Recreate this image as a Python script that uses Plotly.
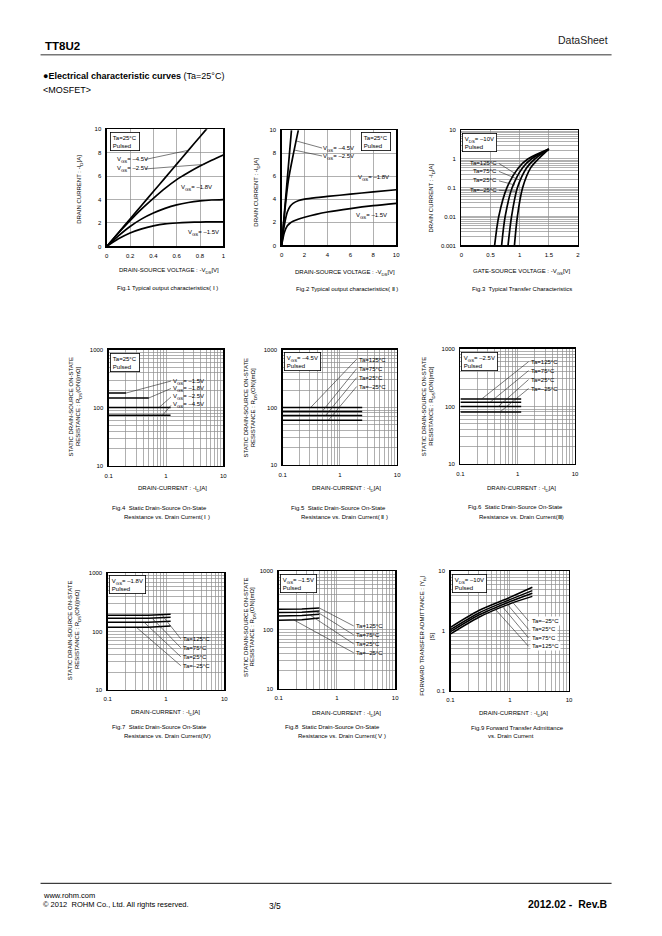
import numpy as np
import plotly.graph_objects as go

W, H = 662, 936
FONT = "Liberation Sans, Arial, Helvetica, sans-serif"

# ---------------- data ----------------
# Fig.1 Typical output characteristics (I)
f1_vds = [0, 0.1, 0.2, 0.3, 0.4, 0.5, 0.6, 0.7, 0.8, 0.9, 1.0]
f1_id_45 = [0, 1.17, 2.34, 3.51, 4.68, 5.85, 7.02, 8.19, 9.36, 10.53, 11.7]
f1_id_25 = [0, 1.15, 2.2, 3.2, 4.1, 4.95, 5.7, 6.3, 6.85, 7.35, 7.8]
f1_id_18 = [0, 0.9, 1.7, 2.35, 2.85, 3.25, 3.55, 3.75, 3.88, 3.96, 4.0]
f1_id_15 = [0, 0.65, 1.15, 1.5, 1.75, 1.92, 2.0, 2.05, 2.08, 2.09, 2.1]

# Fig.2 Typical output characteristics (II)
f2_vds_45 = [0, 0.4, 0.86]
f2_id_45 = [0, 4.65, 10.0]
f2_vds_25 = [0, 0.3, 0.6, 1.0, 1.46]
f2_id_25 = [0, 3.2, 5.7, 7.8, 10.0]
f2_vds = [0, 0.25, 0.5, 0.75, 1, 1.5, 2, 3, 4, 6, 8, 10]
f2_id_18 = [0, 1.8, 2.9, 3.4, 3.65, 3.9, 4.02, 4.15, 4.25, 4.45, 4.65, 4.83]
f2_id_15 = [0, 1.15, 1.7, 1.95, 2.1, 2.3, 2.45, 2.7, 2.9, 3.2, 3.45, 3.65]

# Fig.3 Typical transfer characteristics
f3_id = [0.001, 0.01, 0.1, 0.5, 1.0, 2.2]
f3_vgs_125 = [0.57, 0.64, 0.78, 0.98, 1.14, 1.5]
f3_vgs_75 = [0.69, 0.75, 0.87, 1.05, 1.2, 1.5]
f3_vgs_25 = [0.80, 0.86, 0.96, 1.12, 1.26, 1.5]
f3_vgs_m25 = [0.91, 0.96, 1.05, 1.19, 1.32, 1.5]

# Fig.4 RDS(on) vs ID, Ta=25C, various VGS
f4_id_15 = [0.1, 0.2]
f4_r_15 = [180, 180]
f4_id_18 = [0.1, 0.5]
f4_r_18 = [148, 148]
f4_id_25 = [0.1, 1.2]
f4_r_25 = [102, 102]
f4_id_45 = [0.1, 1.2]
f4_r_45 = [75, 75]

# Fig.5 RDS(on) vs ID, VGS=-4.5V
f5_id = [0.1, 2.45]
f5_r_125 = [100, 100]
f5_r_75 = [85, 85]
f5_r_25 = [72, 72]
f5_r_m25 = [60, 60]

# Fig.6 RDS(on) vs ID, VGS=-2.5V
f6_id = [0.1, 1.15]
f6_r_125 = [135, 135]
f6_r_75 = [118, 118]
f6_r_25 = [100, 100]
f6_r_m25 = [80, 80]

# Fig.7 RDS(on) vs ID, VGS=-1.8V
f7_id = [0.1, 0.5, 1.2]
f7_r_125 = [190, 190, 198]
f7_r_75 = [168, 168, 175]
f7_r_25 = [144, 144, 150]
f7_r_m25 = [118, 118, 124]

# Fig.8 RDS(on) vs ID, VGS=-1.5V
f8_id = [0.1, 0.25, 0.5]
f8_r_125 = [225, 228, 238]
f8_r_75 = [198, 200, 210]
f8_r_25 = [173, 176, 185]
f8_r_m25 = [147, 150, 160]

# Fig.9 Forward transfer admittance vs ID
f9_id = [0.1, 0.3, 1.0, 2.4]
f9_y_m25 = [1.15, 2.2, 3.65, 5.4]
f9_y_25 = [1.05, 2.0, 3.35, 4.75]
f9_y_75 = [0.97, 1.85, 3.1, 4.3]
f9_y_125 = [0.89, 1.7, 2.85, 3.8]

# tick labels
lin_ticks_f1x = [0, 0.2, 0.4, 0.6, 0.8, 1]
lin_ticks_f1y = [0, 2, 4, 6, 8, 10]
lin_ticks_f2 = [0, 2, 4, 6, 8, 10]
lin_ticks_f3x = [0, 0.5, 1, 1.5, 2]

# ---------------- layout helpers ----------------
PANELS = {
    1: dict(px=(104, 222), py=(127, 245), xt='linear', xr=(0, 1), yt='linear', yr=(0, 10)),
    2: dict(px=(281, 397), py=(128, 244), xt='linear', xr=(0, 10), yt='linear', yr=(0, 10)),
    3: dict(px=(463, 581), py=(128, 244), xt='linear', xr=(0, 2), yt='log', yr=(0.001, 10)),
    4: dict(px=(106, 222), py=(349, 466), xt='log', xr=(0.1, 10), yt='log', yr=(10, 1000)),
    5: dict(px=(282, 398), py=(349, 465), xt='log', xr=(0.1, 10), yt='log', yr=(10, 1000)),
    6: dict(px=(462, 578), py=(348, 464), xt='log', xr=(0.1, 10), yt='log', yr=(10, 1000)),
    7: dict(px=(105, 223), py=(574, 691), xt='log', xr=(0.1, 10), yt='log', yr=(10, 1000)),
    8: dict(px=(278, 396), py=(572, 690), xt='log', xr=(0.1, 10), yt='log', yr=(10, 1000)),
    9: dict(px=(452, 572), py=(572, 692), xt='log', xr=(0.1, 10), yt='log', yr=(0.1, 10)),
}

GRID = '#8e8e8e'


def fmt(v):
    return ('%g' % v)


def sub(t):
    # subscript without extra zero-width helper elements
    return '<span style="font-size:4.3px;baseline-shift:-1.5px">' + t + '</span>'


def log_ticks(lo, hi):
    e0, e1 = int(round(np.log10(lo))), int(round(np.log10(hi)))
    major, minor = [], []
    for e in range(e0, e1):
        major.append(round(10.0 ** e, 6))
        for m in range(2, 10):
            minor.append(round(m * 10.0 ** e, 6))
    major.append(round(10.0 ** e1, 6))
    return major, minor


def axis_dict(kind, rng, dom, anchor, lin_vals=None):
    d = dict(domain=dom, anchor=anchor, showline=True, mirror=True, linecolor='black',
             linewidth=1.3, ticks='', showgrid=True, gridcolor=GRID, gridwidth=0.7,
             zeroline=False, tickfont=dict(size=6, color='black', family=FONT),
             fixedrange=True, ticklabelstandoff=3)
    if kind == 'log':
        major, minor = log_ticks(*rng)
        d.update(type='log', range=[np.log10(rng[0]), np.log10(rng[1])],
                 tickmode='array', tickvals=major, ticktext=[fmt(v) for v in major],
                 minor=dict(tickmode='array', tickvals=minor, showgrid=True,
                            gridcolor=GRID, gridwidth=0.7, ticks=''))
    else:
        d.update(type='linear', range=list(rng), tickmode='array',
                 tickvals=lin_vals, ticktext=[fmt(v) for v in lin_vals])
    return d


LIN_TICKS = {1: (lin_ticks_f1x, lin_ticks_f1y), 2: (lin_ticks_f2, lin_ticks_f2), 3: (lin_ticks_f3x, None)}

fig = go.Figure()
layout_axes = {}
for n, P in PANELS.items():
    xs = '' if n == 1 else str(n)
    xdom = [P['px'][0] / W, P['px'][1] / W]
    ydom = [1 - P['py'][1] / H, 1 - P['py'][0] / H]
    lt = LIN_TICKS.get(n, (None, None))
    layout_axes['xaxis' + xs] = axis_dict(P['xt'], P['xr'], xdom, 'y' + xs, lt[0])
    layout_axes['yaxis' + xs] = axis_dict(P['yt'], P['yr'], ydom, 'x' + xs, lt[1])


def ref(n):
    return ('x', 'y') if n == 1 else ('x%d' % n, 'y%d' % n)


def add_curve(n, x, y, w=1.6, shape='spline'):
    xr, yr = ref(n)
    fig.add_trace(go.Scatter(x=x, y=y, mode='lines', xaxis=xr, yaxis=yr,
                             line=dict(color='black', width=w, shape=shape, smoothing=0.8),
                             hoverinfo='skip', showlegend=False))


# Fig.1
for yv in (f1_id_45, f1_id_25, f1_id_18, f1_id_15):
    add_curve(1, f1_vds, yv, 1.7)
# Fig.2
add_curve(2, f2_vds_45, f2_id_45, 1.7)
add_curve(2, f2_vds_25, f2_id_25, 1.7)
add_curve(2, f2_vds, f2_id_18, 1.7)
add_curve(2, f2_vds, f2_id_15, 1.7)
# Fig.3
for xv in (f3_vgs_125, f3_vgs_75, f3_vgs_25, f3_vgs_m25):
    add_curve(3, xv, f3_id, 1.7)
# Fig.4
add_curve(4, f4_id_15, f4_r_15, 1.5, 'linear')
add_curve(4, f4_id_18, f4_r_18, 1.5, 'linear')
add_curve(4, f4_id_25, f4_r_25, 1.5, 'linear')
add_curve(4, f4_id_45, f4_r_45, 1.5, 'linear')
# Fig.5
for yv in (f5_r_125, f5_r_75, f5_r_25, f5_r_m25):
    add_curve(5, f5_id, yv, 1.5, 'linear')
# Fig.6
for yv in (f6_r_125, f6_r_75, f6_r_25, f6_r_m25):
    add_curve(6, f6_id, yv, 1.5, 'linear')
# Fig.7
for yv in (f7_r_125, f7_r_75, f7_r_25, f7_r_m25):
    add_curve(7, f7_id, yv, 1.5, 'linear')
# Fig.8
for yv in (f8_r_125, f8_r_75, f8_r_25, f8_r_m25):
    add_curve(8, f8_id, yv, 1.5, 'linear')
# Fig.9
for yv in (f9_y_m25, f9_y_25, f9_y_75, f9_y_125):
    add_curve(9, f9_id, yv, 1.5)

# ---------------- annotations ----------------
ann = []
shapes = []


def ptext(x, y, text, size=6, xanchor='left', yanchor='middle', bold=False, angle=0,
          bg=None, color='black'):
    d = dict(x=x / W, y=1 - y / H, xref='paper', yref='paper', text=text, showarrow=False,
             xanchor=xanchor, yanchor=yanchor, textangle=angle, align='left',
             font=dict(size=size, family=FONT, color=color), borderpad=0)
    if bold:
        d['text'] = '<b>' + text + '</b>'
    if bg:
        d['bgcolor'] = bg
        d['borderpad'] = 1
    ann.append(d)


def box(x, y, text):
    ann.append(dict(x=x / W, y=1 - y / H, xref='paper', yref='paper', text=text, showarrow=False,
                    xanchor='left', yanchor='top', align='left', bgcolor='white',
                    bordercolor='black', borderwidth=0.8, borderpad=2,
                    font=dict(size=6, family=FONT, color='black')))


def data_to_paper(n, x, y):
    """Position of a data point of panel n in paper units (via the panel's axis mapping)."""
    P = PANELS[n]

    def frac(v, t, r):
        if t == 'log':
            return (np.log10(v) - np.log10(r[0])) / (np.log10(r[1]) - np.log10(r[0]))
        return (v - r[0]) / (r[1] - r[0])
    fx = frac(x, P['xt'], P['xr'])
    fy = frac(y, P['yt'], P['yr'])
    xp = P['px'][0] + fx * (P['px'][1] - P['px'][0])
    yp = P['py'][1] - fy * (P['py'][1] - P['py'][0])
    return xp / W, 1 - yp / H


def leader(n, xp, yp, tx, ty):
    x1, y1 = data_to_paper(n, tx, ty)
    shapes.append(dict(type='line', xref='paper', yref='paper', x0=xp / W, y0=1 - yp / H,
                       x1=x1, y1=y1, line=dict(color='#222', width=0.6), layer='above'))


VGS = 'V' + sub('GS') + '= '
VDS = 'V' + sub('DS') + '= '
ID_T = 'DRAIN CURRENT : -I' + sub('D') + '[A]'
IDC_T = 'DRAIN-CURRENT : -I' + sub('D') + '[A]'
VDS_T = 'DRAIN-SOURCE VOLTAGE : -V' + sub('DS') + '[V]'
VGS_T = 'GATE-SOURCE VOLTAGE : -V' + sub('GS') + '[V]'
RDS_T1 = 'STATIC DRAIN-SOURCE ON-STATE'
RDS_T2 = 'RESISTANCE : R' + sub('DS') + '(ON)[mΩ]'

# Fig.1 texts
box(107, 130, 'Ta=25°C<br>Pulsed')
ptext(113, 158, VGS + '–4.5V')
ptext(113, 167, VGS + '–2.5V')
leader(1, 143, 157.5, 0.70, 8.2)
leader(1, 143, 167, 0.84, 7.0)
ptext(178, 186, VGS + '–1.8V')
ptext(185, 231, VGS + '–1.5V')
ptext(77, 188, ID_T, angle=-90, xanchor='center')
ptext(167, 270, VDS_T, xanchor='center')
ptext(166, 287, 'Fig.1 Typical output characteristics( Ⅰ )', xanchor='center')

# Fig.2 texts
box(361, 130, 'Ta=25°C<br>Pulsed')
ptext(322, 147, VGS + '–4.5V')
ptext(322, 154.5, VGS + '–2.5V')
leader(2, 322, 146, 1.23, 9.08)
leader(2, 322, 154, 1.09, 8.28)
ptext(357, 176, VGS + '–1.8V')
ptext(355, 214, VGS + '–1.5V')
ptext(256, 190, ID_T, angle=-90, xanchor='center')
ptext(345, 272, VDS_T, xanchor='center')
ptext(347, 288, 'Fig.2 Typical output characteristics( Ⅱ )', xanchor='center')

# Fig.3 texts
box(464, 131, VDS + '–10V<br>Pulsed')
ptext(471, 161, 'Ta=125°C')
ptext(474, 169.5, 'Ta=75°C')
ptext(474, 178.5, 'Ta=25°C')
ptext(471, 188, 'Ta=–25°C')
leader(3, 501, 161.5, 0.96, 0.28)
leader(3, 501, 169.5, 0.99, 0.19)
leader(3, 501, 179, 0.92, 0.125)
leader(3, 501, 188.5, 0.93, 0.075)
ptext(433, 196, ID_T, angle=-90, xanchor='center')
ptext(524, 271, VGS_T, xanchor='center')
ptext(524, 288, 'Fig.3  Typical Transfer Characteristics', xanchor='center')

# Fig.4 texts
box(107, 352, 'Ta=25°C<br>Pulsed')
ptext(170, 381.5, VGS + '–1.5V')
ptext(170, 388.5, VGS + '–1.8V')
ptext(170, 397, VGS + '–2.5V')
ptext(170, 405, VGS + '–4.5V')
leader(4, 169, 380.5, 0.2, 180)
leader(4, 169, 388, 0.5, 148)
leader(4, 169, 396.5, 0.76, 102)
leader(4, 169, 405, 0.87, 75)
ptext(68, 406, RDS_T1, angle=-90, xanchor='center')
ptext(76.5, 406, RDS_T2, angle=-90, xanchor='center')
ptext(171, 489, IDC_T, xanchor='center')
ptext(108, 508, 'Fig.4  Static Drain-Source On-State')
ptext(120, 517, 'Resistance vs. Drain Current( Ⅰ )')

# Fig.5 texts
box(283, 351, VGS + '–4.5V<br>Pulsed')
ptext(358, 359, 'Ta=125°C')
ptext(358, 368.5, 'Ta=75°C')
ptext(358, 377.5, 'Ta=25°C')
ptext(358, 386.5, 'Ta=–25°C')
leader(5, 357, 358.5, 0.31, 100)
leader(5, 357, 368, 0.49, 85)
leader(5, 357, 377, 0.56, 72)
leader(5, 357, 386, 0.63, 60)
ptext(245, 407, RDS_T1, angle=-90, xanchor='center')
ptext(253, 407, RDS_T2, angle=-90, xanchor='center')
ptext(347, 489, IDC_T, xanchor='center')
ptext(289, 508, 'Fig.5  Static Drain-Source On-State')
ptext(300, 517, 'Resistance vs. Drain Current( Ⅱ )')

# Fig.6 texts
box(463, 351, VGS + '–2.5V<br>Pulsed')
ptext(532, 361.5, 'Ta=125°C')
ptext(532, 370, 'Ta=75°C')
ptext(532, 379.5, 'Ta=25°C')
ptext(532, 388.5, 'Ta=–25°C')
leader(6, 531, 361, 0.236, 135)
leader(6, 531, 370, 0.33, 118)
leader(6, 531, 379, 0.46, 100)
leader(6, 531, 388, 0.49, 80)
ptext(426, 406, RDS_T1, angle=-90, xanchor='center')
ptext(433.5, 406, RDS_T2, angle=-90, xanchor='center')
ptext(524, 489, IDC_T, xanchor='center')
ptext(469, 507, 'Fig.6  Static Drain-Source On-State')
ptext(480, 517, 'Resistance vs. Drain Current(Ⅲ)')

# Fig.7 texts
box(106, 576, VGS + '–1.8V<br>Pulsed')
ptext(180, 640, 'Ta=125°C')
ptext(180, 649, 'Ta=75°C')
ptext(180, 658, 'Ta=25°C')
ptext(180, 667, 'Ta=–25°C')
leader(7, 179, 640, 0.86, 190)
leader(7, 179, 649, 0.58, 168)
leader(7, 179, 658, 0.42, 144)
leader(7, 179, 667, 0.31, 118)
ptext(67, 631, RDS_T1, angle=-90, xanchor='center')
ptext(75, 631, RDS_T2, angle=-90, xanchor='center')
ptext(163, 715, IDC_T, xanchor='center')
ptext(108, 729, 'Fig.7  Static Drain-Source On-State')
ptext(120, 738, 'Resistance vs. Drain Current(Ⅳ)')

# Fig.8 texts
box(279, 575, VGS + '–1.5V<br>Pulsed')
ptext(355, 627, 'Ta=125°C')
ptext(355, 636, 'Ta=75°C')
ptext(355, 645, 'Ta=25°C')
ptext(355, 654, 'Ta=–25°C')
leader(8, 354, 627, 0.51, 234)
leader(8, 354, 636, 0.45, 205)
leader(8, 354, 645, 0.35, 178)
leader(8, 354, 654, 0.18, 149)
ptext(245, 628, RDS_T1, angle=-90, xanchor='center')
ptext(252.5, 628, RDS_T2, angle=-90, xanchor='center')
ptext(347, 716, IDC_T, xanchor='center')
ptext(283, 729, 'Fig.8  Static Drain-Source On-State')
ptext(297, 738, 'Resistance vs. Drain Current( Ⅴ )')

# Fig.9 texts
box(453, 575, VDS + '–10V<br>Pulsed')
ptext(532, 622, 'Ta=–25°C', bg='white')
ptext(532, 630.5, 'Ta=25°C', bg='white')
ptext(532, 639, 'Ta=75°C', bg='white')
ptext(532, 647.5, 'Ta=125°C', bg='white')
leader(9, 531, 622, 1.0, 3.44)
leader(9, 531, 630.5, 0.85, 3.02)
leader(9, 531, 639, 0.71, 2.73)
leader(9, 531, 647.5, 0.55, 2.4)
ptext(424, 637, 'FORWARD TRANSFER ADMITTANCE : |Y' + sub('fs') + '|', angle=-90, xanchor='center')
ptext(433.5, 637, '[S]', angle=-90, xanchor='center')
ptext(516, 716, IDC_T, xanchor='center')
ptext(520, 730, 'Fig.9 Forward Transfer Admittance', xanchor='center')
ptext(513, 738, 'vs. Drain Current', xanchor='center')

# page header / footer
ptext(40, 43, 'TT8U2', size=11.5, bold=True)
ptext(612, 37, 'DataSheet', size=10.5, xanchor='right', color='#222')
ptext(38, 73, '●<b>Electrical characteristic curves</b> (Ta=25°C)', size=9)
ptext(38, 88, '&lt;MOSFET&gt;', size=9)
ptext(38, 898, 'www.rohm.com', size=7.5)
ptext(38, 907, '© 2012  ROHM Co., Ltd. All rights reserved.', size=7.5)
ptext(267, 909, '3/5', size=8.5)
ptext(612, 907, '2012.02 -  Rev.B', size=10.5, xanchor='right', bold=True)

shapes.append(dict(type='line', xref='paper', yref='paper', x0=37 / W, x1=615 / W,
                   y0=1 - 52 / H, y1=1 - 52 / H, line=dict(color='#777', width=1.5)))
shapes.append(dict(type='line', xref='paper', yref='paper', x0=37 / W, x1=615 / W,
                   y0=1 - 886 / H, y1=1 - 886 / H, line=dict(color='#111', width=1)))

fig.update_layout(width=W, height=H, margin=dict(l=0, r=0, t=0, b=0),
                  paper_bgcolor='white', plot_bgcolor='white', showlegend=False,
                  font=dict(family=FONT, size=6, color='black'),
                  annotations=ann, shapes=shapes, **layout_axes)

fig.write_html("out.html", config=dict(displayModeBar=False, staticPlot=True),
               post_script="document.body.style.margin='0';document.body.style.overflow='hidden';")
